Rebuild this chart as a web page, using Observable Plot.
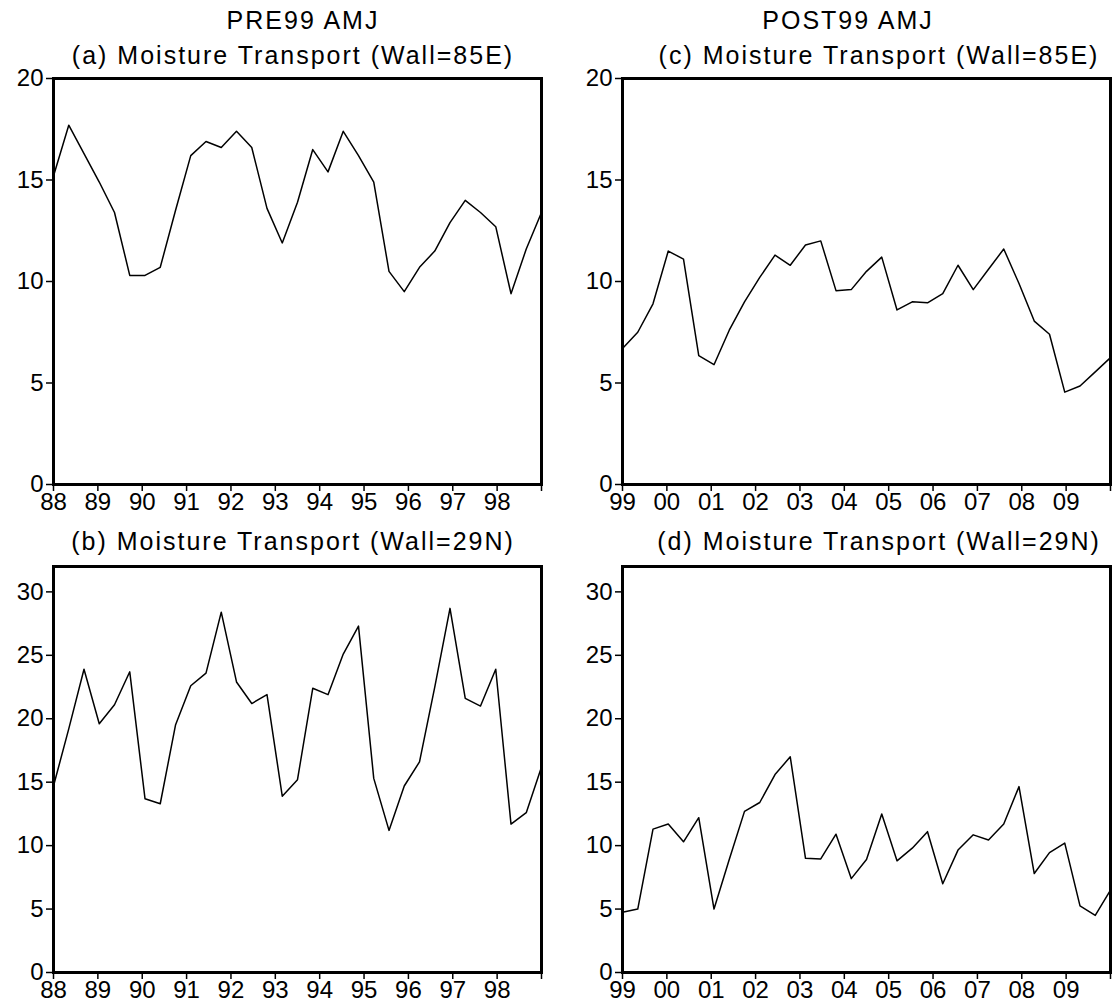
<!DOCTYPE html>
<html>
<head>
<meta charset="utf-8">
<script src="https://cdn.jsdelivr.net/npm/d3@7"></script>
<script src="https://cdn.jsdelivr.net/npm/@observablehq/plot@0.6"></script>
<style>
  html, body { margin: 0; padding: 0; background: #fff; }
  #root { position: relative; width: 1112px; height: 1008px; background: #fff; overflow: hidden; }
  .ttl { position: absolute; width: 600px; text-align: center; font-family: "Liberation Sans", Arial, sans-serif;
         font-size: 25px; line-height: 25px; letter-spacing: 2px; color: #000; white-space: nowrap; }
  .pl { position: absolute; }
</style>
</head>
<body>
<div id="root"></div>
<script>
// ---- data (AMJ months, 11 years × 3 months each) ----
const preYears  = ["88","89","90","91","92","93","94","95","96","97","98"];
const postYears = ["99","00","01","02","03","04","05","06","07","08","09"];

const preEast = [15.2, 17.7, 16.3, 14.9, 13.4, 10.3, 10.3, 10.7, 13.5, 16.2, 16.9,
                 16.6, 17.4, 16.6, 13.6, 11.9, 13.9, 16.5, 15.4, 17.4, 16.2, 14.9,
                 10.5, 9.5, 10.7, 11.5, 12.9, 14.0, 13.4, 12.7, 9.4, 11.6, 13.4];
const preNorth = [14.7, 19.2, 23.9, 19.6, 21.1, 23.7, 13.7, 13.3, 19.5, 22.6, 23.6,
                  28.4, 22.9, 21.2, 21.9, 13.9, 15.2, 22.4, 21.9, 25.1, 27.3, 15.3,
                  11.2, 14.7, 16.6, 22.5, 28.7, 21.6, 21.0, 23.9, 11.7, 12.6, 16.2];
const postEast = [6.7, 7.5, 8.9, 11.5, 11.1, 6.35, 5.9, 7.6, 9.0, 10.2, 11.3,
                  10.8, 11.8, 12.0, 9.55, 9.6, 10.5, 11.2, 8.6, 9.0, 8.95, 9.4,
                  10.8, 9.6, 10.6, 11.6, 9.9, 8.05, 7.4, 4.55, 4.85, 5.55, 6.25];
const postNorth = [4.75, 5.0, 11.3, 11.7, 10.3, 12.2, 5.0, 8.9, 12.7, 13.4, 15.6,
                   17.0, 9.0, 8.95, 10.9, 7.4, 8.9, 12.5, 8.8, 9.8, 11.1, 7.0,
                   9.65, 10.85, 10.45, 11.7, 14.65, 7.8, 9.45, 10.2, 5.25, 4.5, 6.5];

const topTitles = ["PRE99 AMJ", "POST99 AMJ"];
const panelTitles = ["(a) Moisture Transport (Wall=85E)", "(b) Moisture Transport (Wall=29N)",
                     "(c) Moisture Transport (Wall=85E)", "(d) Moisture Transport (Wall=29N)"];
const ticksTop = [0, 5, 10, 15, 20];
const ticksBottom = [0, 5, 10, 15, 20, 25, 30];

const root = document.getElementById("root");

function addTitle(text, cx, cy) {
  const d = document.createElement("div");
  d.className = "ttl";
  d.textContent = text;
  d.style.left = (cx - 300) + "px";
  d.style.top = (cy - 13) + "px";
  root.appendChild(d);
}

function panel(values, labels, yMax, yTicks, frameLeft, frameTop) {
  const ML = 53, MR = 3, MT = 10, MB = 34, FW = 488, FH = 406;
  const nYears = labels.length;
  const data = values.map((v, i) => ({t: i * nYears / (values.length - 1), v}));
  const chart = Plot.plot({
    width: ML + FW + MR,
    height: MT + FH + MB,
    marginLeft: ML, marginRight: MR, marginTop: MT, marginBottom: MB,
    style: {fontFamily: "Liberation Sans, Arial, sans-serif", fontSize: "24px", background: "transparent", overflow: "visible", color: "#000"},
    x: {domain: [0, nYears], axis: null},
    y: {domain: [0, yMax], axis: null},
    marks: [
      Plot.axisX({ticks: d3.range(nYears + 1), tickFormat: i => labels[i] ?? "", label: null, tickSize: 7, tickPadding: 1, fontSize: 24, strokeWidth: 1.5}),
      Plot.axisY({ticks: yTicks, label: null, tickSize: 7, tickPadding: 3, fontSize: 24, strokeWidth: 1.5}),
      Plot.line(data, {x: "t", y: "v", stroke: "#000", strokeWidth: 1.5}),
      Plot.frame({stroke: "#000", strokeWidth: 3})
    ]
  });
  chart.classList.add("pl");
  chart.style.position = "absolute";
  chart.style.left = (frameLeft - ML) + "px";
  chart.style.top = (frameTop - MT) + "px";
  root.appendChild(chart);
}

panel(preEast, preYears, 20, ticksTop, 53, 78);
panel(preNorth, preYears, 32, ticksBottom, 53, 566);
panel(postEast, postYears, 20, ticksTop, 622, 78);
panel(postNorth, postYears, 32, ticksBottom, 622, 566);

addTitle(topTitles[0], 303, 21);
addTitle(panelTitles[0], 293, 56);
addTitle(panelTitles[1], 293, 542);
addTitle(topTitles[1], 848, 21);
addTitle(panelTitles[2], 879, 56);
addTitle(panelTitles[3], 879, 542);
</script>
</body>
</html>
